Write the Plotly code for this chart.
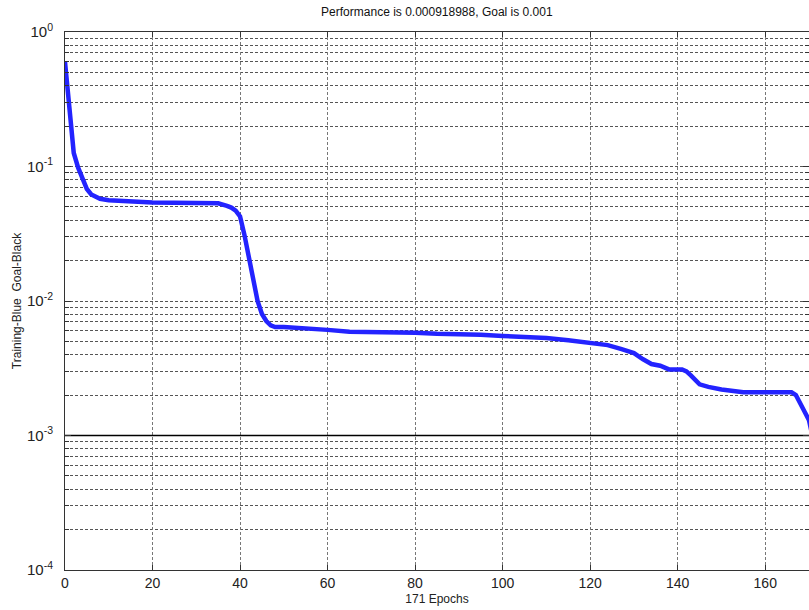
import plotly.graph_objects as go

epochs = [0, 1, 2, 3, 4, 5, 6, 8, 10, 15, 20, 25, 30, 35, 37, 38, 39, 40, 41, 42, 43, 44, 45, 46, 47, 48,
          50, 55, 60, 65, 70, 75, 80, 85, 90, 95, 100, 105, 110, 115, 120, 124, 127, 130, 132, 134, 136,
          138, 141, 142, 143, 144, 145, 147, 150, 155, 160, 166, 167, 168, 169, 170, 171]
performance = [0.60, 0.27, 0.126, 0.098, 0.080, 0.068, 0.062, 0.0575, 0.0562, 0.0548, 0.0540, 0.0538,
               0.0537, 0.0533, 0.0510, 0.0495, 0.0470, 0.0425, 0.031, 0.021, 0.0140, 0.0100, 0.0080,
               0.0071, 0.0066, 0.0064, 0.0064, 0.0063, 0.0061, 0.0059, 0.0059, 0.0058, 0.0058, 0.0057,
               0.0057, 0.0056, 0.0055, 0.0054, 0.0053, 0.0051, 0.0049, 0.0047, 0.0044, 0.0041, 0.0037,
               0.0034, 0.0033, 0.0031, 0.0031, 0.0030, 0.0028, 0.0026, 0.0024, 0.0023, 0.0022, 0.0021,
               0.0021, 0.0021, 0.0020, 0.0017, 0.0015, 0.0013, 0.000919]
goal = 0.001
goal_x = [0, 171]

x_ticks = [0, 20, 40, 60, 80, 100, 120, 140, 160]
decades = [-4, -3, -2, -1, 0]

y_tickvals = [10.0 ** k for k in decades]
y_ticktext = ["10<sup>%d</sup>" % k for k in decades]
y_minorvals = [m * 10.0 ** k for k in decades[:-1] for m in range(2, 10)]

fig = go.Figure()
fig.add_trace(go.Scatter(x=goal_x, y=[goal, goal], mode="lines",
                         line=dict(color="black", width=1.5), showlegend=False, hoverinfo="skip"))
fig.add_trace(go.Scatter(x=epochs, y=performance, mode="lines",
                         line=dict(color="rgb(35,35,255)", width=4.5), showlegend=False))

fig.update_layout(
    width=809, height=610,
    margin=dict(l=65, r=0, t=32, b=40),
    plot_bgcolor="white", paper_bgcolor="white",
    font=dict(family="Liberation Sans, Arial, sans-serif", size=13, color="#222"),
    title=dict(text="Performance is 0.000918988, Goal is 0.001", x=0.54, xanchor="center",
               y=0.98, yanchor="middle", yref="container",
               font=dict(family="Liberation Sans, Arial, sans-serif", size=12, color="#111")),
    xaxis=dict(range=[0, 170], tickvals=x_ticks, ticktext=[str(v) for v in x_ticks],
               showgrid=True, gridcolor="#777", griddash="3px,2px", gridwidth=1,
               showline=True, linecolor="#333", linewidth=1, mirror="ticks",
               ticks="inside", ticklen=5, tickcolor="#333", zeroline=False,
               tickfont=dict(size=14),
               title=dict(text="171 Epochs", font=dict(size=12), standoff=4)),
    yaxis=dict(type="log", range=[-4, 0], tickvals=y_tickvals, ticktext=y_ticktext,
               showgrid=True, gridcolor="#555", griddash="3px,2px", gridwidth=1,
               showline=True, linecolor="#333", linewidth=1, mirror="ticks",
               ticks="inside", ticklen=6, tickcolor="#333", zeroline=False,
               ticklabelstandoff=8,
               tickfont=dict(size=15),
               minor=dict(tickvals=y_minorvals, ticks="inside", ticklen=4, tickcolor="#333",
                          showgrid=True, gridcolor="#555", griddash="3px,2px", gridwidth=1),
               title=dict(text="Training-Blue  Goal-Black", font=dict(size=12), standoff=2)),
)

fig.write_html("out.html")
